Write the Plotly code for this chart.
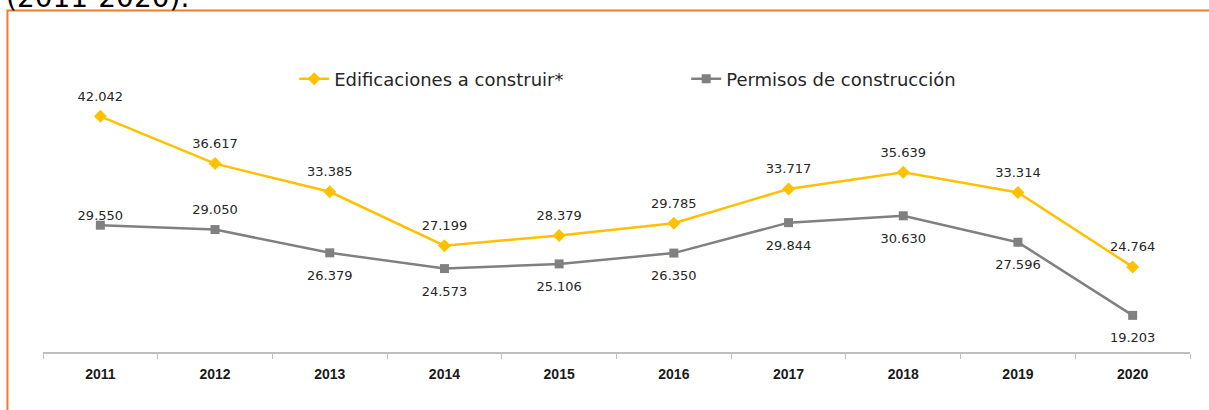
import plotly.graph_objects as go

years = ["2011", "2012", "2013", "2014", "2015", "2016", "2017", "2018", "2019", "2020"]
edificaciones = [42042, 36617, 33385, 27199, 28379, 29785, 33717, 35639, 33314, 24764]
permisos = [29550, 29050, 26379, 24573, 25106, 26350, 29844, 30630, 27596, 19203]

YELLOW = "#FFC000"
GRAY = "#808080"
FONT = "'DejaVu Sans', sans-serif"
LABEL_FONT = dict(size=13, color="#262626", family=FONT)


def fmt(v):
    return f"{v:,}".replace(",", ".")


fig = go.Figure()

fig.add_trace(go.Scatter(
    x=years, y=edificaciones, name="Edificaciones a construir*",
    mode="lines+markers",
    line=dict(color=YELLOW, width=2.5),
    marker=dict(symbol="diamond", size=10, color=YELLOW),
))

fig.add_trace(go.Scatter(
    x=years, y=permisos, name="Permisos de construcción",
    mode="lines+markers",
    line=dict(color=GRAY, width=2.5),
    marker=dict(symbol="square", size=9, color=GRAY),
))

# data labels (invisible spacer markers push text away from the points)
fig.add_trace(go.Scatter(
    x=years, y=edificaciones, mode="markers+text", showlegend=False, hoverinfo="skip",
    marker=dict(size=18, opacity=0),
    text=[fmt(v) for v in edificaciones], textposition="top center", textfont=LABEL_FONT,
))

gray_pos = ["top center", "top center"] + ["bottom center"] * 8
gray_pad = [2, 18] + [26] * 8
fig.add_trace(go.Scatter(
    x=years, y=permisos, mode="markers+text", showlegend=False, hoverinfo="skip",
    marker=dict(size=gray_pad, opacity=0),
    text=[fmt(v) for v in permisos], textposition=gray_pos, textfont=LABEL_FONT,
))

fig.update_layout(
    width=1209, height=410,
    margin=dict(l=43, r=19, t=47, b=58),
    paper_bgcolor="white", plot_bgcolor="white",
    font=dict(family=FONT, color="#262626"),
    showlegend=True,
    legend=dict(
        orientation="h", x=0.219, y=0.895, xanchor="left", yanchor="middle",
        font=dict(size=18, color="#262626", family=FONT),
        entrywidth=347, bgcolor="rgba(0,0,0,0)",
    ),
    xaxis=dict(
        type="category", showgrid=False, showline=True, linecolor="#BFBFBF", linewidth=1.5,
        ticks="outside", tickson="boundaries", ticklen=5, tickcolor="#BFBFBF",
        tickfont=dict(size=14, color="#1a1a1a", family="'Liberation Sans Narrow', Arial, sans-serif"),
        ticklabelstandoff=8,
        range=[-0.5, 9.5], fixedrange=True,
        ticktext=[f"<b>{y}</b>" for y in years], tickvals=years,
    ),
    yaxis=dict(range=[15000, 50000], visible=False, showgrid=False, zeroline=False, fixedrange=True),
    shapes=[dict(
        type="rect", xref="paper", yref="paper",
        x0=-0.031, x1=1.05, y0=-0.5, y1=1.12,
        line=dict(color="#ED7D31", width=2), fillcolor="rgba(0,0,0,0)", layer="below",
    )],
    annotations=[dict(
        text="(2011-2020).", xref="paper", yref="paper", x=-0.034, y=1.1,
        xanchor="left", yanchor="bottom", showarrow=False,
        font=dict(size=28, color="#000000", family=FONT),
    )],
)

fig.write_html("out.html", config={"displayModeBar": False},
               post_script="document.body.style.margin='0';")
